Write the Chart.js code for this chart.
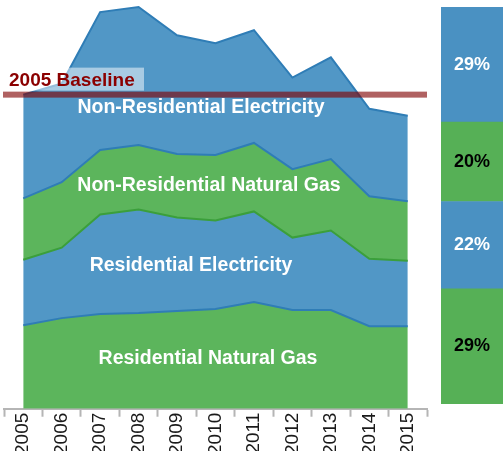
<!DOCTYPE html>
<html>
<head>
<meta charset="utf-8">
<script src="https://cdn.jsdelivr.net/npm/chart.js@4.4.1/dist/chart.umd.min.js"></script>
<style>
html, body { margin: 0; padding: 0; background: #fff; }
#wrap { position: relative; width: 503px; height: 457px; overflow: hidden; font-family: "Liberation Sans", Arial, sans-serif; }
#areaBox { position: absolute; left: 0; top: 0; width: 436px; height: 457px; }
#barBox { position: absolute; left: 441px; top: 7px; width: 62px; height: 397px; }
</style>
</head>
<body>
<div id="wrap">
  <div id="areaBox"><canvas id="areaChart"></canvas></div>
  <div id="barBox"><canvas id="shareChart"></canvas></div>
</div>
<script>
// Dados
const years = ["2005", "2006", "2007", "2008", "2009", "2010", "2011", "2012", "2013", "2014", "2015"];
const resGas   = [83, 90, 94, 95, 97, 99, 106, 98, 98, 82, 82];
const resElec  = [65, 70, 99, 103, 93, 88, 90, 72, 79, 67, 65];
const nonResGas  = [61, 65, 64, 64, 63, 65, 68, 68, 71, 62, 59];
const nonResElec = [103, 98, 137, 137, 118, 111, 112, 91, 101, 87, 85];

// Participação em 2015 (barra da direita), de baixo para cima
const shareLabels = ["Residential Natural Gas", "Residential Electricity", "Non-Residential Natural Gas", "Non-Residential Electricity"];
const shareValues = [29, 22, 20, 29];

const baselineLabel = "2005 Baseline";

// Cores
const blueFill = "#5197c6";
const blueLine = "#2f7db6";
const greenFill = "#5cb55c";
const greenLine = "#3b9f3b";
const font = '"Liberation Sans", Arial, sans-serif';

// Linha de referência de 2005 = total de 2005
const baseline = resGas[0] + resElec[0] + nonResGas[0] + nonResElec[0];

const baselinePlugin = {
    id: 'baseline',
    afterDatasetsDraw(chart) {
        const ctx = chart.ctx;
        const y = chart.scales.y.getPixelForValue(baseline);
        const area = chart.chartArea;
        ctx.save();
        ctx.fillStyle = 'rgba(128, 0, 0, 0.62)';
        ctx.fillRect(area.left - 1, y - 3, area.right - area.left + 1, 6);
        // caixa do rótulo
        ctx.fillStyle = 'rgba(255, 255, 255, 0.5)';
        ctx.fillRect(3, y - 27, 141, 23);
        ctx.fillStyle = '#8b0000';
        ctx.font = 'bold 19px ' + font;
        ctx.textBaseline = 'alphabetic';
        ctx.fillText(baselineLabel, 9, y - 9);
        ctx.restore();
    }
};

// Rótulos das áreas
const areaLabels = [
    { text: "Non-Residential Electricity", x: 201, y: 108 },
    { text: "Non-Residential Natural Gas", x: 209, y: 186 },
    { text: "Residential Electricity", x: 191, y: 266 },
    { text: "Residential Natural Gas", x: 208, y: 359 }
];

const areaLabelPlugin = {
    id: 'areaLabels',
    afterDatasetsDraw(chart) {
        const ctx = chart.ctx;
        ctx.save();
        ctx.fillStyle = '#ffffff';
        ctx.font = 'bold 19.5px ' + font;
        ctx.textAlign = 'center';
        ctx.textBaseline = 'middle';
        areaLabels.forEach(l => ctx.fillText(l.text, l.x, l.y));
        ctx.restore();
    }
};

function createAreaChart() {
    const ctx = document.getElementById('areaChart');
    new Chart(ctx.getContext('2d'), {
        type: 'line',
        data: {
            labels: years,
            datasets: [
                { label: shareLabels[0], data: resGas, backgroundColor: greenFill, borderColor: blueLine, fill: 'origin' },
                { label: shareLabels[1], data: resElec, backgroundColor: blueFill, borderColor: greenLine, fill: '-1' },
                { label: shareLabels[2], data: nonResGas, backgroundColor: greenFill, borderColor: blueLine, fill: '-1' },
                { label: shareLabels[3], data: nonResElec, backgroundColor: blueFill, borderColor: blueLine, fill: '-1' }
            ]
        },
        options: {
            responsive: true,
            maintainAspectRatio: false,
            animation: false,
            layout: { padding: { left: 4, right: 9, top: 0, bottom: 6 } },
            elements: {
                line: { borderWidth: 2, tension: 0 },
                point: { radius: 0 }
            },
            plugins: {
                legend: { display: false },
                tooltip: { enabled: false }
            },
            scales: {
                x: {
                    offset: true,
                    grid: {
                        offset: true,
                        drawOnChartArea: false,
                        tickLength: 8,
                        tickWidth: 2,
                        tickColor: '#b5b5b5'
                    },
                    border: { color: '#b5b5b5', width: 2 },
                    ticks: {
                        color: '#1a1a1a',
                        minRotation: 90,
                        maxRotation: 90,
                        padding: -4,
                        font: { size: 19, family: font }
                    }
                },
                y: {
                    display: false,
                    stacked: true,
                    min: 0,
                    max: 406
                }
            }
        },
        plugins: [baselinePlugin, areaLabelPlugin]
    });
}

const shareLabelPlugin = {
    id: 'shareLabels',
    afterDatasetsDraw(chart) {
        const ctx = chart.ctx;
        ctx.save();
        ctx.font = 'bold 18px ' + font;
        ctx.textAlign = 'center';
        ctx.textBaseline = 'middle';
        chart.data.datasets.forEach((ds, i) => {
            const bar = chart.getDatasetMeta(i).data[0];
            ctx.fillStyle = i % 2 === 0 ? '#000000' : '#ffffff';
            ctx.fillText(ds.data[0] + '%', bar.x, (bar.y + bar.base) / 2);
        });
        ctx.restore();
    }
};

function createShareChart() {
    const ctx = document.getElementById('shareChart');
    const colors = ["#56b056", "#4a91c2", "#56b056", "#4a91c2"];
    new Chart(ctx.getContext('2d'), {
        type: 'bar',
        data: {
            labels: ["2015"],
            datasets: shareValues.map((v, i) => ({
                label: shareLabels[i],
                data: [v],
                backgroundColor: colors[i],
                borderWidth: 0,
                barPercentage: 1,
                categoryPercentage: 1
            }))
        },
        options: {
            responsive: true,
            maintainAspectRatio: false,
            animation: false,
            layout: { padding: 0 },
            plugins: {
                legend: { display: false },
                tooltip: { enabled: false }
            },
            scales: {
                x: { display: false, stacked: true },
                y: { display: false, stacked: true, min: 0, max: 100 }
            }
        },
        plugins: [shareLabelPlugin]
    });
}

createAreaChart();
createShareChart();
</script>
</body>
</html>
